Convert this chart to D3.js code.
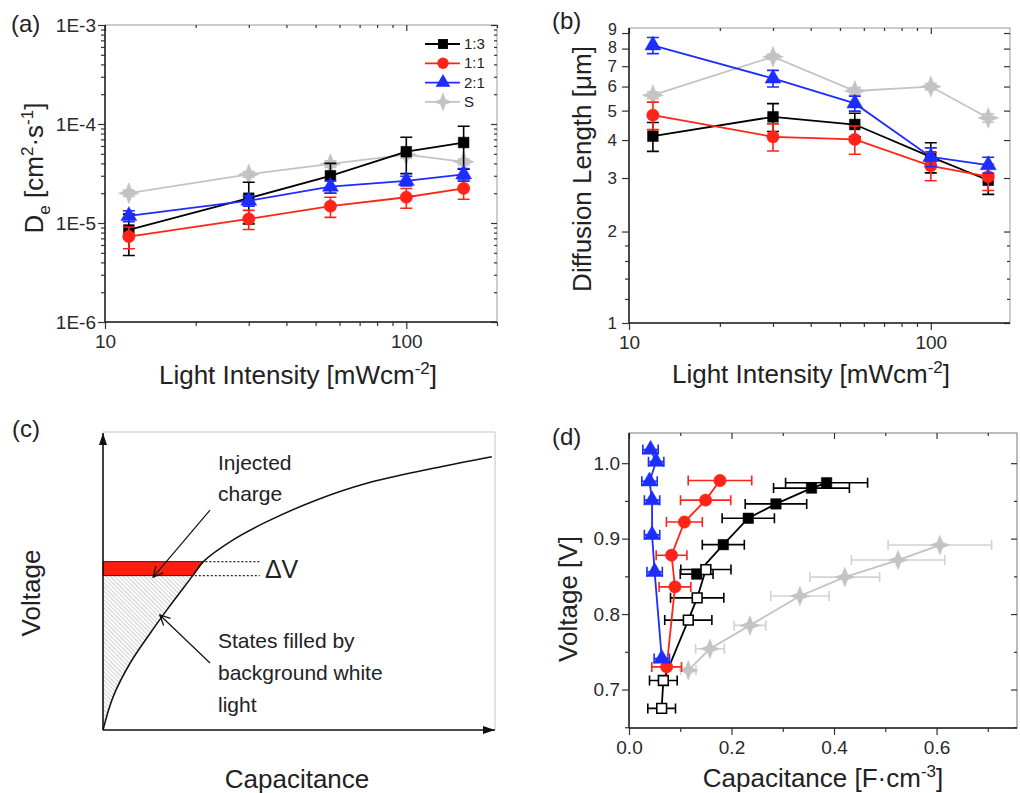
<!DOCTYPE html>
<html lang="en">
<head>
<meta charset="UTF-8">
<title>Diffusion coefficient, diffusion length and capacitance</title>
<style>
  body { margin: 0; background: #fff; }
  svg { font-family: Arial, "Liberation Sans", sans-serif; }
  .tick text { font-size: 19px; fill: #2a2a2a; font-family: Arial, "Liberation Sans", sans-serif; }
  .tick line { stroke: #333; stroke-width: 1.2px; }
  .title { font-size: 26px; fill: #222; }
  .plabel { font-size: 24px; fill: #222; }
  .note { font-size: 21px; fill: #222; }
</style>
</head>
<body>
<svg width="1020" height="793"></svg>
<script src="https://d3js.org/d3.v7.min.js"></script>
<script>
// ---------- data ----------
const seriesNames = ["1:3", "1:1", "2:1", "S"];
const intensity = [12, 30, 56, 100, 155];           // mW cm-2

// (a) De [cm2 s-1]
const de13 = [8.5e-6, 1.78e-5, 3.0e-5, 5.25e-5, 6.5e-5];
const de13Err = [3.8e-6, 8.0e-6, 1.0e-5, 2.1e-5, 3.0e-5];
const de11 = [7.3e-6, 1.1e-5, 1.48e-5, 1.82e-5, 2.24e-5];
const de11Err = [1.8e-6, 2.4e-6, 3.4e-6, 4.1e-6, 5.0e-6];
const de21 = [1.18e-5, 1.68e-5, 2.33e-5, 2.67e-5, 3.1e-5];
const de21Err = [1.5e-6, 2.0e-6, 3.3e-6, 3.0e-6, 4.5e-6];
const deS = [2.0e-5, 3.1e-5, 3.95e-5, 4.9e-5, 4.15e-5];
const deSErr = [1.5e-6, 2.0e-6, 3.0e-6, 4.0e-6, 3.0e-6];

// (b) diffusion length [um]
const len13 = [4.12, 4.77, 4.5, 3.52, 2.95];
const len13Err = [0.45, 0.5, 0.4, 0.4, 0.3];
const len11 = [4.83, 4.1, 4.02, 3.29, 3.03];
const len11Err = [0.5, 0.42, 0.43, 0.35, 0.3];
const len21 = [8.2, 6.38, 5.28, 3.52, 3.31];
const len21Err = [0.5, 0.4, 0.3, 0.25, 0.2];
const lenS = [5.62, 7.52, 5.8, 6.0, 4.73];
const lenSErr = [0.15, 0.15, 0.15, 0.15, 0.15];

// (c) schematic V(C) curve, arbitrary units
const schemC = [0, 0.026, 0.069, 0.120, 0.163, 0.229, 0.256, 0.332, 0.418, 0.545, 0.673, 0.843, 0.992];
const schemV = [0, 0.112, 0.224, 0.324, 0.403, 0.518, 0.565, 0.638, 0.699, 0.772, 0.828, 0.878, 0.917];

// (d) capacitance [F cm-3] vs voltage [V]
const cap21 = [0.042, 0.053, 0.040, 0.045, 0.045, 0.050, 0.064];
const volt21 = [1.018, 1.002, 0.976, 0.951, 0.905, 0.856, 0.741];
const cap21Err = [0.015, 0.015, 0.015, 0.015, 0.015, 0.015, 0.015];
const cap11 = [0.1775, 0.1495, 0.108, 0.083, 0.0897, 0.0735];
const volt11 = [0.977, 0.951, 0.922, 0.878, 0.836, 0.730];
const cap11Err = [0.062, 0.049, 0.035, 0.030, 0.031, 0.029];
const cap13 = [0.3855, 0.356, 0.2867, 0.2327, 0.184, 0.132];
const volt13 = [0.974, 0.967, 0.946, 0.927, 0.892, 0.853];
const cap13Err = [0.080, 0.074, 0.060, 0.051, 0.041, 0.032];
const cap13o = [0.150, 0.133, 0.1157, 0.067, 0.0637];
const volt13o = [0.859, 0.8215, 0.792, 0.712, 0.675];
const cap13oErr = [0.049, 0.052, 0.046, 0.027, 0.027];
const capS = [0.6065, 0.525, 0.421, 0.3335, 0.236, 0.158, 0.1157];
const voltS = [0.8915, 0.8716, 0.849, 0.824, 0.785, 0.754, 0.7255];
const capSErr = [0.101, 0.091, 0.068, 0.057, 0.031, 0.028, 0.015];

// ---------- styles ----------
const colors = ["#000000", "#ff2417", "#1d2cff", "#c3c3c3"];
const star4 = {
    draw(ctx, size) {
        const r = Math.sqrt(size) * 0.8, ri = r * 0.4;
        for (let i = 0; i < 8; i++) {
            const a = i * Math.PI / 4 - Math.PI / 2, rr = i % 2 ? ri : r;
            i ? ctx.lineTo(rr * Math.cos(a), rr * Math.sin(a)) : ctx.moveTo(rr * Math.cos(a), rr * Math.sin(a));
        }
        ctx.closePath();
    }
};
const symbols = [d3.symbolSquare, d3.symbolCircle, d3.symbolTriangle, star4];
const symSizes = [115, 120, 110, 170];

const svg = d3.select("svg");
svg.append("rect").attr("width", 1020).attr("height", 793).attr("fill", "#fff");
const defs = svg.append("defs");

// text with super/subscripts
function rich(sel, parts) {
    let off = 0;
    parts.forEach(([t, m]) => {
        const target = m === "sup" ? -10 : m === "sub" ? 7 : 0;
        sel.append("tspan").attr("dy", target - off).attr("font-size", m ? "17px" : null).text(t);
        off = target;
    });
}

function frame(g, x, y, o) {
    const [xl, xr] = x.range(), [yb, yt] = y.range();
    g.append("rect").attr("x", xl).attr("y", yt).attr("width", xr - xl).attr("height", yb - yt)
        .attr("fill", "none").attr("stroke", o.frameColor || "#9a9a9a").attr("stroke-width", 1);
    const clean = s => s.select(".domain").remove();
    g.append("g").attr("transform", `translate(0,${yb})`)
        .call(d3.axisBottom(x).tickValues(o.xMajor).tickFormat(o.xFmt).tickSize(7).tickPadding(6)).call(clean);
    g.append("g").attr("transform", `translate(0,${yb})`)
        .call(d3.axisBottom(x).tickValues(o.xMinor).tickFormat("").tickSize(4)).call(clean);
    const yAxis = g.append("g").attr("transform", `translate(${xl},0)`)
        .call(d3.axisLeft(y).tickValues(o.yMajor).tickFormat(o.yFmt).tickSize(7).tickPadding(o.yPad || 3)).call(clean);
    g.append("g").attr("transform", `translate(${xl},0)`)
        .call(d3.axisLeft(y).tickValues(o.yMinor).tickFormat("").tickSize(4)).call(clean);
    // mirrored ticks, inward
    g.append("g").attr("transform", `translate(0,${yt})`)
        .call(d3.axisTop(x).tickValues(o.xMajor).tickFormat("").tickSize(-6)).call(clean);
    g.append("g").attr("transform", `translate(0,${yt})`)
        .call(d3.axisTop(x).tickValues(o.xMinor).tickFormat("").tickSize(-3)).call(clean);
    g.append("g").attr("transform", `translate(${xr},0)`)
        .call(d3.axisRight(y).tickValues(o.yMajor).tickFormat("").tickSize(-6)).call(clean);
    g.append("g").attr("transform", `translate(${xr},0)`)
        .call(d3.axisRight(y).tickValues(o.yMinor).tickFormat("").tickSize(-3)).call(clean);
    g.append("line").attr("x1", xl).attr("x2", xl).attr("y1", yt).attr("y2", yb).attr("stroke", "#222").attr("stroke-width", 1.5);
    g.append("line").attr("x1", xl).attr("x2", xr).attr("y1", yb).attr("y2", yb).attr("stroke", "#222").attr("stroke-width", 1.5);
    return yAxis;
}

function series(g, xs, ys, errs, sx, sy, st) {
    const pts = xs.map((xv, i) => ({
        x: sx(xv), y: sy(ys[i]),
        e0: st.horizontal ? sx(xv - errs[i]) : sy(ys[i] - errs[i]),
        e1: st.horizontal ? sx(xv + errs[i]) : sy(ys[i] + errs[i])
    }));
    if (st.line !== false) {
        g.append("path").attr("d", d3.line().x(d => d.x).y(d => d.y)(pts))
            .attr("fill", "none").attr("stroke", st.color).attr("stroke-width", 1.8);
    }
    const eb = g.append("g").attr("stroke", st.errColor || st.color).attr("stroke-width", 1.6).attr("fill", "none");
    pts.forEach(p => {
        if (st.horizontal) {
            eb.append("path").attr("d", `M${p.e0},${p.y}H${p.e1}M${p.e0},${p.y - 5}V${p.y + 5}M${p.e1},${p.y - 5}V${p.y + 5}`);
        } else {
            eb.append("path").attr("d", `M${p.x},${p.e0}V${p.e1}M${p.x - 6},${p.e0}H${p.x + 6}M${p.x - 6},${p.e1}H${p.x + 6}`);
        }
    });
    g.append("g").selectAll("path").data(pts).join("path")
        .attr("transform", d => `translate(${d.x},${d.y})`)
        .attr("d", d3.symbol(st.symbol, st.size))
        .attr("fill", st.fill || st.color)
        .attr("stroke", st.color).attr("stroke-width", st.fill ? 1.6 : 0.5);
}

const logMinor = (lo, hi) => {
    const out = [];
    for (let e = lo; e < hi; e++) for (let k = 2; k <= 9; k++) out.push(k * Math.pow(10, e));
    return out;
};

// ---------- (a) ----------
const gA = svg.append("g");
const ax = d3.scaleLog().domain([10, 200]).range([105, 497]);
const ay = d3.scaleLog().domain([1e-6, 1e-3]).range([322, 25]);
frame(gA, ax, ay, {
    xMajor: [10, 100], xMinor: [20, 30, 40, 50, 60, 70, 80, 90, 200], xFmt: d3.format("d"),
    yMajor: [1e-6, 1e-5, 1e-4, 1e-3], yMinor: logMinor(-6, -3),
    yFmt: d => "1E" + Math.round(Math.log10(d)), yPad: 2
});
const aData = [[deS, deSErr, 3], [de13, de13Err, 0], [de11, de11Err, 1], [de21, de21Err, 2]];
aData.forEach(([v, e, k]) => series(gA, intensity, v, e, ax, ay,
    { color: colors[k], symbol: symbols[k], size: symSizes[k] }));

// legend
const leg = gA.append("g");
seriesNames.forEach((name, k) => {
    const yy = 44 + k * 19.3;
    leg.append("line").attr("x1", 425).attr("x2", 460).attr("y1", yy).attr("y2", yy)
        .attr("stroke", colors[k]).attr("stroke-width", 1.8);
    leg.append("path").attr("transform", `translate(443,${yy})`)
        .attr("d", d3.symbol(symbols[k], symSizes[k] * 0.85)).attr("fill", colors[k]);
    leg.append("text").attr("x", 464).attr("y", yy + 5).attr("font-size", 15).attr("fill", "#222").text(name);
});

rich(gA.append("text").attr("class", "title").attr("x", 298).attr("y", 384).attr("text-anchor", "middle"),
    [["Light Intensity [mWcm"], ["-2", "sup"], ["]"]]);
rich(gA.append("text").attr("class", "title").attr("text-anchor", "middle")
    .attr("transform", "translate(43,168) rotate(-90)"),
    [["D"], ["e", "sub"], [" [cm"], ["2", "sup"], ["·s"], ["-1", "sup"], ["]"]]);
gA.append("text").attr("class", "plabel").attr("x", 11).attr("y", 32).text("(a)");

// ---------- (b) ----------
const gB = svg.append("g");
const bx = d3.scaleLog().domain([10, 183]).range([629, 1010]);
const by = d3.scaleLog().domain([1, 9.35]).range([323, 28]);
const bYAxis = frame(gB, bx, by, {
    xMajor: [10, 100], xMinor: [20, 30, 40, 50, 60, 70, 80, 90], xFmt: d3.format("d"),
    yMajor: [1, 2, 3, 4, 5, 6, 7, 8, 9], yMinor: [1.2, 1.4, 1.6, 1.8],
    yFmt: d3.format("d"), yPad: 5
});
// 7, 8 and 9 sit very close together on the log axis
bYAxis.selectAll(".tick text")
    .style("font-size", d => d >= 8 ? "16px" : "17px")
    .attr("dy", d => d === 9 ? 1.6 : d === 8 ? 4.1 : "0.32em");
const bData = [[lenS, lenSErr, 3], [len13, len13Err, 0], [len11, len11Err, 1], [len21, len21Err, 2]];
bData.forEach(([v, e, k]) => series(gB, intensity, v, e, bx, by,
    { color: colors[k], symbol: symbols[k], size: symSizes[k] }));
rich(gB.append("text").attr("class", "title").attr("x", 811).attr("y", 383).attr("text-anchor", "middle"),
    [["Light Intensity [mWcm"], ["-2", "sup"], ["]"]]);
gB.append("text").attr("class", "title").attr("text-anchor", "middle")
    .attr("transform", "translate(591,169) rotate(-90)").text("Diffusion Length [μm]");
gB.append("text").attr("class", "plabel").attr("x", 552).attr("y", 29).text("(b)");

// ---------- (c) schematic ----------
const gC = svg.append("g");
const cx = d3.scaleLinear().domain([0, 1]).range([103, 495]);
const cy = d3.scaleLinear().domain([0, 1]).range([730, 432]);
const schem = schemC.map((c, i) => [c, schemV[i]]);
const cLine = d3.line().x(d => cx(d[0])).y(d => cy(d[1])).curve(d3.curveCatmullRom.alpha(0.5));

defs.append("pattern").attr("id", "hatch").attr("patternUnits", "userSpaceOnUse")
    .attr("width", 3).attr("height", 3).attr("patternTransform", "rotate(-45)")
    .append("line").attr("x1", 0).attr("y1", 0).attr("x2", 0).attr("y2", 3)
    .attr("stroke", "#8a8a8a").attr("stroke-width", 0.8);
defs.append("marker").attr("id", "arrFill").attr("viewBox", "0 0 12 8").attr("refX", 12).attr("refY", 4)
    .attr("markerUnits", "userSpaceOnUse").attr("markerWidth", 12).attr("markerHeight", 8).attr("orient", "auto")
    .append("path").attr("d", "M0,0L12,4L0,8Z").attr("fill", "#111");
defs.append("marker").attr("id", "arrOpen").attr("viewBox", "0 0 12 12").attr("refX", 11).attr("refY", 6)
    .attr("markerUnits", "userSpaceOnUse").attr("markerWidth", 12).attr("markerHeight", 12).attr("orient", "auto")
    .append("path").attr("d", "M1,1L11,6L1,11").attr("fill", "none").attr("stroke", "#111").attr("stroke-width", 1.3);

// light frame
gC.append("path").attr("d", `M${cx(0)},${cy(1)}H${cx(1)}V${cy(0)}`).attr("fill", "none").attr("stroke", "#c4c4c4");
const iLow = 5, iHigh = 6;
gC.append("path").attr("d", cLine(schem.slice(0, iLow + 1)) + `L${cx(0)},${cy(schemV[iLow])}Z`)
    .attr("fill", "url(#hatch)").attr("stroke", "none");
gC.append("path").attr("d", `M${cx(0)},${cy(schemV[iHigh])}L${cx(schemC[iHigh])},${cy(schemV[iHigh])}L${cx(schemC[iLow])},${cy(schemV[iLow])}L${cx(0)},${cy(schemV[iLow])}Z`)
    .attr("fill", "#ff1e0e").attr("stroke", "#5a0b05").attr("stroke-width", 1);
gC.append("path").attr("d", cLine(schem)).attr("fill", "none").attr("stroke", "#111").attr("stroke-width", 1.5);
[iHigh, iLow].forEach(i => gC.append("line")
    .attr("x1", cx(schemC[i]) + 2).attr("x2", cx(0.40)).attr("y1", cy(schemV[i])).attr("y2", cy(schemV[i]))
    .attr("stroke", "#222").attr("stroke-width", 1.2).attr("stroke-dasharray", "2,2"));
gC.append("text").attr("x", cx(0.413)).attr("y", cy(0.51)).attr("font-size", 25).attr("fill", "#222").text("ΔV");
// axes with arrows
gC.append("line").attr("x1", cx(0)).attr("y1", cy(0)).attr("x2", cx(0)).attr("y2", cy(1) + 1)
    .attr("stroke", "#111").attr("stroke-width", 1.6).attr("marker-end", "url(#arrFill)");
gC.append("line").attr("x1", cx(0)).attr("y1", cy(0)).attr("x2", cx(1)).attr("y2", cy(0))
    .attr("stroke", "#111").attr("stroke-width", 1.6).attr("marker-end", "url(#arrFill)");
// annotations
gC.append("line").attr("x1", cx(0.273)).attr("y1", cy(0.738)).attr("x2", cx(0.128)).attr("y2", cy(0.513))
    .attr("stroke", "#111").attr("stroke-width", 1.2).attr("marker-end", "url(#arrOpen)");
gC.append("line").attr("x1", cx(0.273)).attr("y1", cy(0.225)).attr("x2", cx(0.145)).attr("y2", cy(0.386))
    .attr("stroke", "#111").attr("stroke-width", 1.2).attr("marker-end", "url(#arrOpen)");
[["Injected", 470], ["charge", 501], ["States filled by", 648], ["background white", 680], ["light", 712]]
    .forEach(([t, yy]) => gC.append("text").attr("class", "note").attr("x", 218).attr("y", yy).text(t));
gC.append("text").attr("class", "title").attr("text-anchor", "middle")
    .attr("transform", "translate(40,593) rotate(-90)").text("Voltage");
gC.append("text").attr("class", "title").attr("x", 297).attr("y", 788).attr("text-anchor", "middle").text("Capacitance");
gC.append("text").attr("class", "plabel").attr("x", 12).attr("y", 437).text("(c)");

// ---------- (d) ----------
const gD = svg.append("g");
const dx = d3.scaleLinear().domain([0, 0.757]).range([629, 1017]);
const dy = d3.scaleLinear().domain([0.649, 1.04]).range([728, 433]);
frame(gD, dx, dy, {
    xMajor: [0, 0.2, 0.4, 0.6], xMinor: [0.1, 0.3, 0.5, 0.7], xFmt: d3.format(".1f"),
    yMajor: [0.7, 0.8, 0.9, 1.0], yMinor: [0.65, 0.75, 0.85, 0.95], yFmt: d3.format(".1f"),
    yPad: 2, frameColor: "#777"
});
series(gD, capS, voltS, capSErr, dx, dy, { color: colors[3], errColor: "#d2d2d2", symbol: star4, size: 150, horizontal: true });
// 1:3 line runs through filled and open squares
series(gD, cap13.concat(cap13o), volt13.concat(volt13o), cap13.concat(cap13o).map(() => 0), dx, dy,
    { color: colors[0], symbol: d3.symbolSquare, size: 0, horizontal: true });
series(gD, cap13, volt13, cap13Err, dx, dy, { color: colors[0], symbol: d3.symbolSquare, size: 110, horizontal: true, line: false });
series(gD, cap13o, volt13o, cap13oErr, dx, dy, { color: colors[0], fill: "#fff", symbol: d3.symbolSquare, size: 95, horizontal: true, line: false });
series(gD, cap11, volt11, cap11Err, dx, dy, { color: colors[1], symbol: d3.symbolCircle, size: 120, horizontal: true });
series(gD, cap21, volt21, cap21Err, dx, dy, { color: colors[2], symbol: d3.symbolTriangle, size: 110, horizontal: true });
rich(gD.append("text").attr("class", "title").attr("x", 823).attr("y", 787).attr("text-anchor", "middle"),
    [["Capacitance [F·cm"], ["-3", "sup"], ["]"]]);
gD.append("text").attr("class", "title").attr("text-anchor", "middle")
    .attr("transform", "translate(577,599) rotate(-90)").text("Voltage [V]");
gD.append("text").attr("class", "plabel").attr("x", 552).attr("y", 445).text("(d)");
</script>
</body>
</html>
